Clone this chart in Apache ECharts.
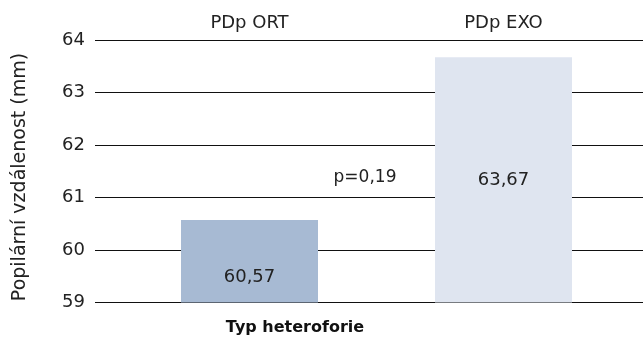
<!DOCTYPE html>
<html><head><meta charset="utf-8">
<script src="https://cdn.jsdelivr.net/npm/echarts@6/dist/echarts.min.js"></script>
<style>html,body{margin:0;padding:0;background:#fff}#c{width:643px;height:340px}</style>
</head><body><div id="c"></div>
<script>
const categories = ['PDp ORT', 'PDp EXO'];
const values = [60.57, 63.67];
const valueLabels = ['60,57', '63,67'];
const yTicks = [59, 60, 61, 62, 63, 64];
const pText = 'p=0,19';
const yName = 'Popilární vzdálenost (mm)';
const xName = 'Typ heteroforie';
const barColors = ['#A7BAD3', '#DFE5F0'];
const FONT = 'DejaVu Sans';

const chart = echarts.init(document.getElementById('c'));
chart.setOption({
  animation: false,
  textStyle: { fontFamily: FONT },
  grid: [
    { left: 95, right: 0, top: 40, bottom: 37.5 },
    { left: 122.5, right: 12.5, top: 40, bottom: 37.5 }
  ],
  xAxis: [
    { gridIndex: 0, type: 'category', data: categories, show: false },
    { gridIndex: 1, type: 'category', data: categories, position: 'top',
      axisLine: { show: false }, axisTick: { show: false },
      axisLabel: { color: '#222', fontSize: 18, fontFamily: FONT, margin: 8 } }
  ],
  yAxis: [
    { gridIndex: 0, type: 'value', min: yTicks[0], max: yTicks[yTicks.length - 1], interval: 1,
      axisLine: { show: false }, axisTick: { show: false },
      axisLabel: { color: '#222', fontSize: 18, fontFamily: FONT, margin: 10 },
      splitLine: { lineStyle: { color: '#111', width: 1 } } },
    { gridIndex: 1, type: 'value', min: yTicks[0], max: yTicks[yTicks.length - 1], interval: 1, show: false }
  ],
  series: [{
    type: 'bar', xAxisIndex: 1, yAxisIndex: 1, barWidth: 137,
    data: values.map((v, i) => ({
      value: v,
      itemStyle: { color: barColors[i] },
      label: i === 0
        ? { show: true, position: 'insideBottom', distance: 16 }
        : { show: true, position: 'inside' }
    })),
    label: {
      show: true, color: '#222', fontSize: 18, fontFamily: FONT,
      formatter: p => valueLabels[p.dataIndex]
    }
  }],
  graphic: [
    { type: 'text', x: 365, y: 178, z: 100,
      style: { text: pText, fill: '#222', font: '17px "DejaVu Sans"', textAlign: 'center', textVerticalAlign: 'middle' } },
    { type: 'text', x: 295, y: 328, z: 100,
      style: { text: xName, fill: '#111', font: 'bold 16px "DejaVu Sans"', textAlign: 'center', textVerticalAlign: 'middle' } },
    { type: 'text', x: 20, y: 177, rotation: Math.PI / 2, z: 100,
      style: { text: yName, fill: '#222', font: '19px "DejaVu Sans"', textAlign: 'center', textVerticalAlign: 'middle' } }
  ]
});
</script></body></html>
